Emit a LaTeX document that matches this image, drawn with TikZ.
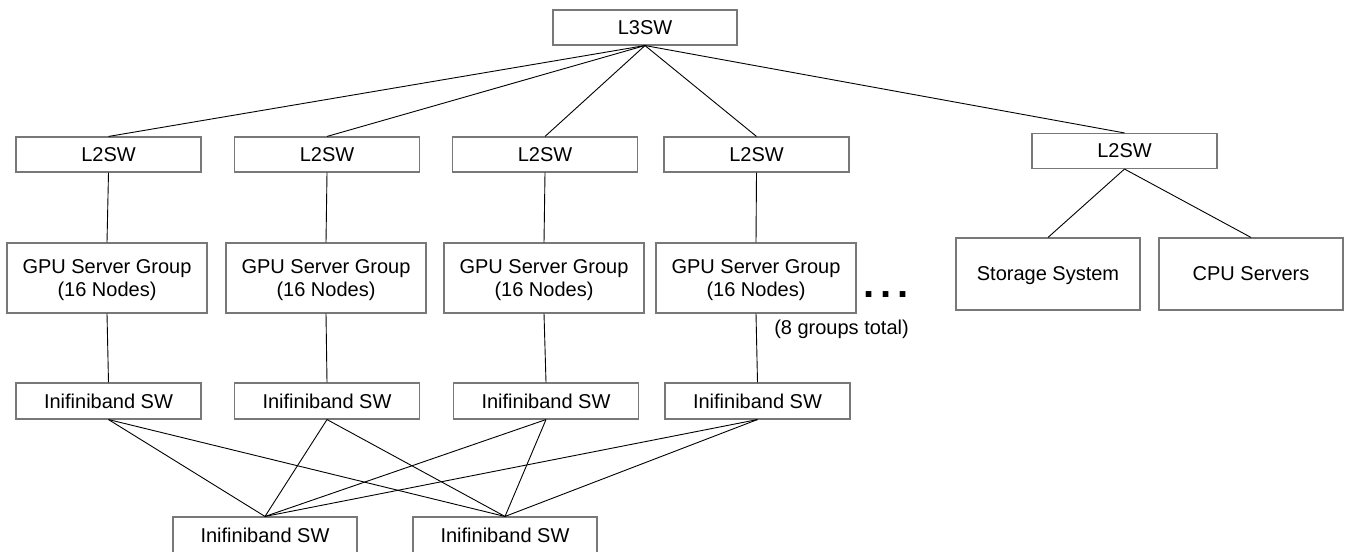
\documentclass[tikz,border=0pt]{standalone}
\usepackage{fontspec}
\setmainfont{Liberation Sans}
\begin{document}
\begin{tikzpicture}[x=1pt,y=-1pt,
  box/.style={draw={rgb,255:red,120;green,120;blue,120},line width=1.1pt,fill=white,
    inner sep=0pt,align=center,font=\fontsize{20}{23}\selectfont},
  sw/.style={box,minimum width=185pt,minimum height=35pt},
  grp/.style={box,minimum width=200pt,minimum height=70pt,text depth=0pt},
  sys/.style={box,minimum width=184pt,minimum height=72pt,text depth=0pt},
  link/.style={draw=black,line width=0.9pt}]
\useasboundingbox (0,0) rectangle (1348,551);
\clip (0,0) rectangle (1348,551);
% nodes
\node[sw,minimum width=184pt] (l3) at (645,27.5) {L3SW};
\node[sw] (a1) at (108.5,154.5) {L2SW};
\node[sw] (a2) at (327,154.5) {L2SW};
\node[sw] (a3) at (545,154.5) {L2SW};
\node[sw] (a4) at (756.5,154.5) {L2SW};
\node[sw] (a5) at (1124.5,151) {L2SW};
\node[grp] (g1) at (107,278) {GPU Server Group\\(16 Nodes)};
\node[grp] (g2) at (326,278) {GPU Server Group\\(16 Nodes)};
\node[grp] (g3) at (544,278) {GPU Server Group\\(16 Nodes)};
\node[grp] (g4) at (756,278) {GPU Server Group\\(16 Nodes)};
\node[sys] (st) at (1048,274) {Storage System};
\node[sys] (cpu) at (1251,274) {CPU Servers};
\node[sw,minimum height=36pt] (i1) at (108.5,401) {Inifiniband SW};
\node[sw,minimum height=36pt] (i2) at (327,401) {Inifiniband SW};
\node[sw,minimum height=36pt] (i3) at (546,401) {Inifiniband SW};
\node[sw,minimum height=36pt] (i4) at (757.5,401) {Inifiniband SW};
\node[sw,minimum width=184pt,minimum height=36pt] (b1) at (265,535) {Inifiniband SW};
\node[sw,minimum width=184pt,minimum height=36pt] (b2) at (505,535) {Inifiniband SW};
\node[font={\fontsize{40}{40}\selectfont\bfseries},inner sep=0pt] (dots) at (886,295) {.\hspace{6pt}.\hspace{6pt}.};
\node[font=\fontsize{20}{23}\selectfont,inner sep=0pt] (note) at (841.5,329) {(8 groups total)};
% links
\foreach \n in {a1,a2,a3,a4,a5} \draw[link] (l3.south) -- (\n.north);
\foreach \i in {1,2,3,4} {
  \draw[link] (a\i.south) -- (g\i.north);
  \draw[link] (g\i.south) -- (i\i.north);
  \draw[link] (i\i.south) -- (b1.north);
  \draw[link] (i\i.south) -- (b2.north);
}
\draw[link] (a5.south) -- (st.north);
\draw[link] (a5.south) -- (cpu.north);
\end{tikzpicture}
\end{document}
